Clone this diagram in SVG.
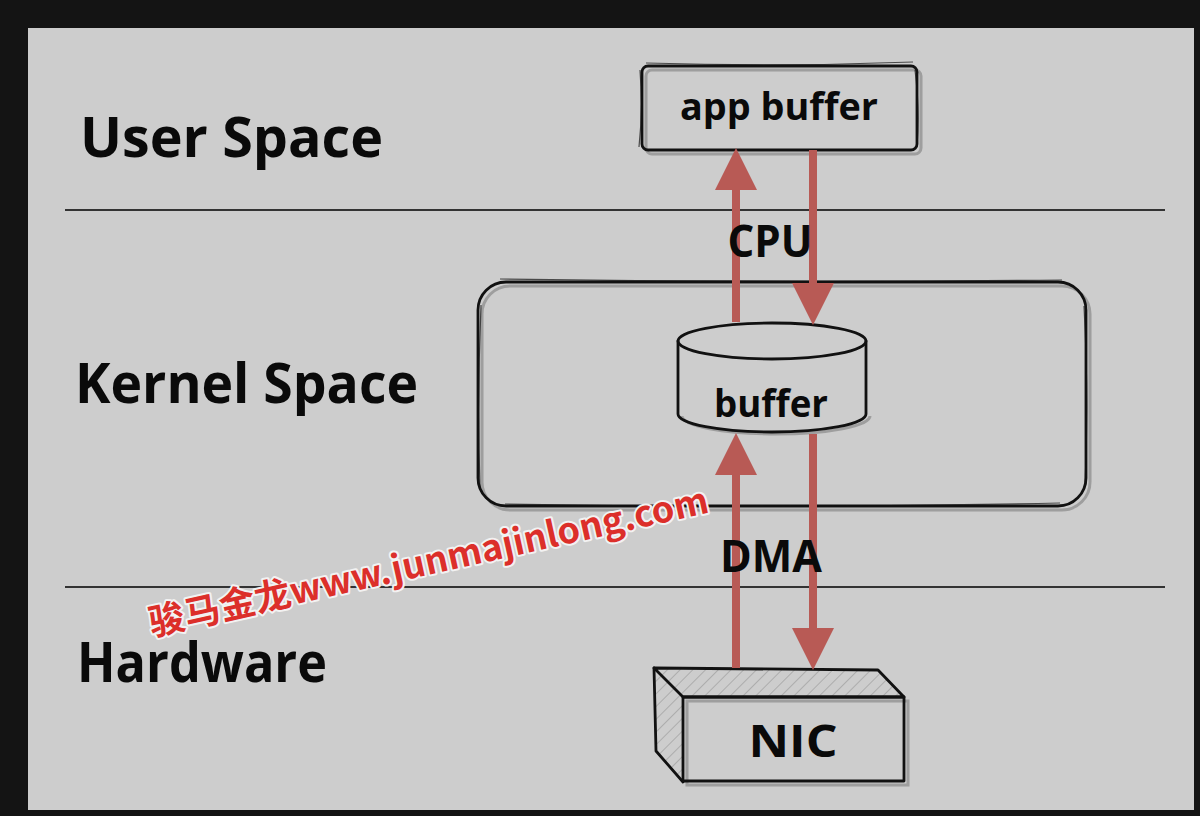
<svg xmlns="http://www.w3.org/2000/svg" width="1200" height="816" viewBox="0 0 1200 816">
<style>
.lbl{font-family:"Open Sans","Liberation Sans",sans-serif;font-weight:700;fill:#0a0a0a}
.big{font-size:56px}
.mid{font-size:44px}
.sm{font-size:38px}
.edge{fill:none;stroke:#111;stroke-width:2.8;stroke-linejoin:round;stroke-linecap:round}
.sketch{fill:none;stroke:#111;stroke-width:1.2;opacity:0.7}
.shadow{fill:none;stroke:#8a8a8a;stroke-width:3;opacity:0.7}
.sep{stroke:#333;stroke-width:2}
.arrow{stroke:#b85a55;stroke-width:8;fill:none}
.wm{font-family:"Noto Sans CJK SC","Noto Sans",sans-serif;font-weight:700;font-size:36px;fill:#dc2f2a;stroke:#f2f2f2;stroke-width:4;paint-order:stroke;stroke-linejoin:round}
</style>
<defs>
<marker id="head" markerUnits="userSpaceOnUse" markerWidth="44" markerHeight="44" refX="0" refY="21" orient="auto" viewBox="0 0 44 42">
<path d="M0,0 L42,21 L0,42 z" fill="#b85a55"/>
</marker>
<pattern id="hatch" patternUnits="userSpaceOnUse" width="9" height="9" patternTransform="rotate(45)">
<line x1="0" y1="0" x2="0" y2="9" stroke="#a5a5a5" stroke-width="1.6"/>
</pattern>
</defs>
<rect x="0" y="0" width="1200" height="816" fill="#141414"/>
<rect x="28" y="28" width="1166" height="782" fill="#cdcdcd"/>

<g id="layers">
<line class="sep" x1="65" y1="210" x2="1165" y2="210"/>
<line class="sep" x1="65" y1="587" x2="1165" y2="587"/>
<text class="lbl big" x="80" y="157" textLength="303" lengthAdjust="spacingAndGlyphs">User Space</text>
<text class="lbl big" x="75" y="403" textLength="343" lengthAdjust="spacingAndGlyphs">Kernel Space</text>
<text class="lbl big" x="77" y="682" textLength="250" lengthAdjust="spacingAndGlyphs">Hardware</text>
</g>

<g id="kernel-box">
<rect class="shadow" x="482" y="286" width="608" height="224" rx="28"/>
<rect class="edge" x="478" y="282" width="608" height="224" rx="28"/>
<path class="sketch" d="M500,279 Q780,283 1062,280 M481,305 Q477,400 480,488 M1084,306 Q1089,400 1085,485 M505,504 Q780,509 1060,503"/>
</g>

<g id="app-buffer">
<rect class="shadow" x="646" y="70" width="275" height="84" rx="6"/>
<rect class="edge" x="642" y="66" width="275" height="84" rx="6"/>
<path class="sketch" d="M646,63 Q780,67 913,62 M640,70 Q643,110 639,147 M915,70 Q920,110 917,146"/>
<text class="lbl sm" x="779" y="120" text-anchor="middle" textLength="198" lengthAdjust="spacingAndGlyphs">app buffer</text>
</g>

<g id="buffer">
<path class="shadow" d="M682,416 A94,18 0 0 0 870,416"/>
<path class="edge" d="M678,341 L678,414 A94,18 0 0 0 866,414 L866,341" fill="#cdcdcd"/>
<ellipse class="edge" cx="772" cy="341" rx="94" ry="18"/>
<text class="lbl sm" x="771" y="417" text-anchor="middle" textLength="114" lengthAdjust="spacingAndGlyphs">buffer</text>
</g>

<g id="nic">
<path d="M654,668 L878,670 L904,697 L683,697 z" fill="url(#hatch)"/>
<path d="M654,668 L683,697 L683,782 L656,751 z" fill="url(#hatch)"/>
<rect class="shadow" x="687" y="701" width="221" height="84"/>
<path class="edge" d="M654,668 L878,670 L904,697 L683,697 z"/>
<path class="edge" d="M654,668 L656,751 L683,782"/>
<rect class="edge" x="683" y="697" width="221" height="84" fill="none"/>
<text class="lbl mid" x="793" y="757" text-anchor="middle" textLength="89" lengthAdjust="spacingAndGlyphs">NIC</text>
</g>

<g id="connectors">
<line class="arrow" x1="736" y1="322" x2="736" y2="190" marker-end="url(#head)"/>
<line class="arrow" x1="813" y1="150" x2="813" y2="283" marker-end="url(#head)"/>
<line class="arrow" x1="736" y1="668" x2="736" y2="475" marker-end="url(#head)"/>
<line class="arrow" x1="813" y1="434" x2="813" y2="628" marker-end="url(#head)"/>
<text class="lbl mid" x="770" y="257" text-anchor="middle" textLength="85" lengthAdjust="spacingAndGlyphs">CPU</text>
<text class="lbl mid" x="771" y="572" text-anchor="middle" textLength="102" lengthAdjust="spacingAndGlyphs">DMA</text>
</g>

<g id="watermark">
<text class="wm" x="152" y="636" transform="rotate(-12.5 152 636)" textLength="572" lengthAdjust="spacingAndGlyphs">骏马金龙www.junmajinlong.com</text>
</g>
</svg>
